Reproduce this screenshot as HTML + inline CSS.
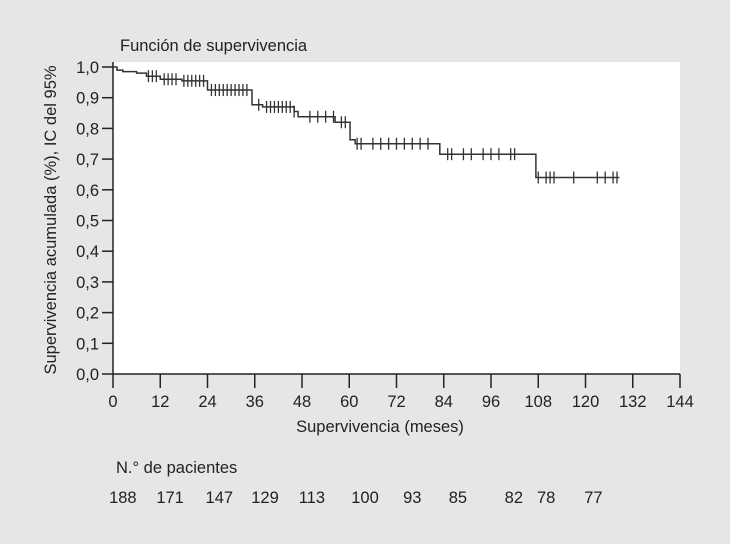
<!DOCTYPE html>
<html><head><meta charset="utf-8"><style>
body{margin:0;background:#e6e6e6;}
svg{display:block;font-family:"Liberation Sans",sans-serif;}
</style></head><body>
<svg width="730" height="544">
<rect x="0" y="0" width="730" height="544" fill="#e6e6e6"/>
<rect x="113" y="62" width="567" height="312" fill="#fff"/>
<text x="120" y="51" font-size="16.5" fill="#222">Función de supervivencia</text>
<g id="axes"></g>
<path id="curve" fill="none" stroke="#333" stroke-width="1.5"/>
<g id="censors" stroke="#333" stroke-width="1.3"></g>
<text x="0" y="0" transform="translate(56,220) rotate(-90)" text-anchor="middle" font-size="16.5" fill="#222">Supervivencia acumulada (%), IC del 95%</text>
<text x="380" y="432" text-anchor="middle" font-size="16.5" fill="#222">Supervivencia (meses)</text>
<text x="116" y="473" font-size="16.5" fill="#222">N.° de pacientes</text>
<g id="risk"></g>
</svg>
<script>
const xTicks=[0,12,24,36,48,60,72,84,96,108,120,132,144];
const yTicks=[0,0.1,0.2,0.3,0.4,0.5,0.6,0.7,0.8,0.9,1.0];
const stepTimes=[0,1,2.5,6,8.5,12,17.5,24,35.3,38,46,47,56.4,60.2,61.5,83,107.4,128.6];
const stepValues=[1.0,0.99,0.985,0.98,0.97,0.96,0.955,0.925,0.877,0.87,0.855,0.838,0.82,0.763,0.75,0.716,0.64,0.64];
const censorTimes=[9,10,11,13,14,15,16,18,19,20,21,22,23,25,26,27,28,29,30,31,32,33,34,37,39,40,41,42,43,44,45,46,50,52,54,56,58,59,62,63,66,68,70,72,74,76,78,80,85,86,89,91,94,96,98,101,102,108,110,111,112,117,123,125,127,128];
const riskCounts=[188,171,147,129,113,100,93,85,82,78,77];
const riskX=[2.5,14.5,27,38.6,50.5,64,76,87.6,101.8,110,122];
const NS="http://www.w3.org/2000/svg";
const X=m=>113+m*(567/144), Y=v=>374-307*v;
function mk(t,a,parent){const e=document.createElementNS(NS,t);for(const k in a)e.setAttribute(k,a[k]);parent.appendChild(e);return e;}
const ax=document.getElementById('axes');
let l=mk('line',{x1:113,y1:374,x2:680,y2:374,stroke:'#222','stroke-width':1.5},ax);


l=mk('line',{x1:113,y1:62,x2:113,y2:374,stroke:'#222','stroke-width':1.5},ax);


xTicks.forEach(t=>{const g=mk('g',{},ax);


mk('line',{x1:X(t),y1:374,x2:X(t),y2:388,stroke:'#222','stroke-width':1.5},g);
const tx=mk('text',{x:X(t),y:407,'text-anchor':'middle','font-size':16.5,fill:'#222'},g);tx.textContent=t;});
yTicks.forEach(t=>{const g=mk('g',{},ax);


mk('line',{x1:102,y1:Y(t),x2:113,y2:Y(t),stroke:'#222','stroke-width':1.5},g);
const tx=mk('text',{x:99,y:Y(t)+6,'text-anchor':'end','font-size':16.5,fill:'#222'},g);tx.textContent=t.toFixed(1).replace('.',',');});
let d='M'+X(stepTimes[0])+','+Y(stepValues[0]);
for(let i=1;i<stepTimes.length;i++){d+=' H'+X(stepTimes[i])+' V'+Y(stepValues[i]);}
document.getElementById('curve').setAttribute('d',d);
function valAt(t){let v=stepValues[0];for(let i=0;i<stepTimes.length;i++){if(stepTimes[i]<=t)v=stepValues[i];}return v;}
const cg=document.getElementById('censors');
censorTimes.forEach(t=>{const ln=mk('line',{x1:X(t),x2:X(t),y1:Y(valAt(t))-6,y2:Y(valAt(t))+6},cg);

});
const rg=document.getElementById('risk');
riskCounts.forEach((c,i)=>{const tx=mk('text',{x:X(riskX[i]),y:503,'text-anchor':'middle','font-size':16.5,fill:'#222'},rg);


tx.textContent=c;});
</script>
</body></html>
